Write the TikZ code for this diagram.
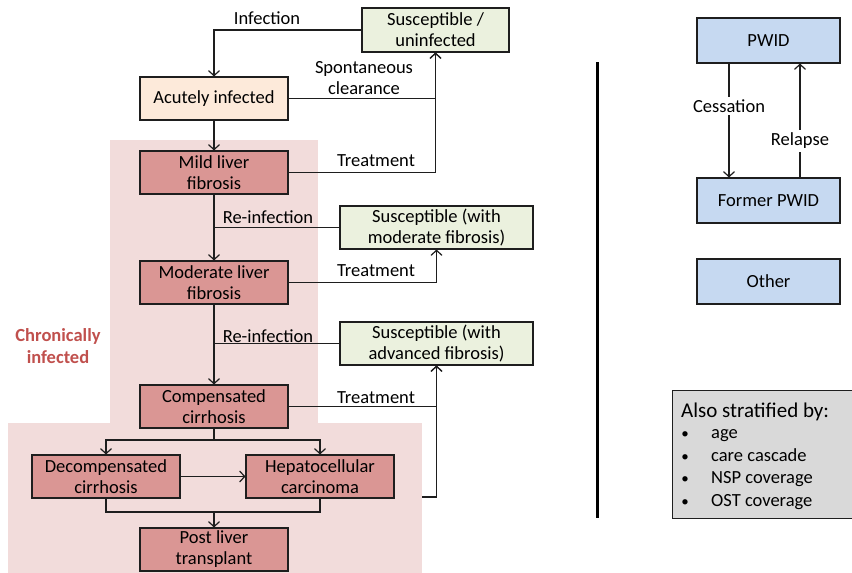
\documentclass[tikz,border=0pt]{standalone}
\usepackage{fontspec}
\setmainfont{Carlito}
\usetikzlibrary{arrows.meta}
\definecolor{susc}{RGB}{235,241,222}
\definecolor{acutec}{RGB}{253,234,218}
\definecolor{chron}{RGB}{218,150,148}
\definecolor{pinkbg}{RGB}{242,220,219}
\definecolor{bluec}{RGB}{198,217,241}
\definecolor{grayc}{RGB}{217,217,217}
\definecolor{redtxt}{RGB}{192,80,77}
\definecolor{edge}{RGB}{30,30,30}
\tikzset{
  box/.style={draw=edge, line width=1.1pt, minimum width=148pt, minimum height=43pt,
    align=center, inner sep=0pt, font=\fontsize{18.5}{21}\selectfont, text=black},
  lbl/.style={align=center, inner sep=1pt, font=\fontsize{18.5}{21.5}\selectfont},
  conn/.style={draw=edge, line width=1.2pt},
  arr/.style={conn, -{Straight Barb[length=5pt,width=11pt,line width=1.2pt]}},
  item/.style={anchor=base west, inner sep=0pt, font=\fontsize{18.5}{21}\selectfont},
  bul/.style={anchor=base, inner sep=0pt, font=\fontsize{15}{18}\selectfont},
}
\begin{document}
\begin{tikzpicture}[x=1pt,y=-1pt]
\useasboundingbox (0,0) rectangle (852,573);
% backgrounds
\fill[pinkbg] (110,140) rectangle (318,423);
\fill[pinkbg] (8,423) rectangle (422,573);

% left model nodes
\node[box, fill=susc, minimum width=147pt, minimum height=44pt] (sus) at (435.5,30) {Susceptible /\\uninfected};
\node[box, fill=acutec] (acute) at (214,98.5) {Acutely infected};
\node[box, fill=chron] (mild) at (214,172.5) {Mild liver\\fibrosis};
\node[box, fill=susc, minimum width=193pt] (susmod) at (436.5,227.5) {Susceptible (with\\moderate fibrosis)};
\node[box, fill=chron] (mod) at (214,282.5) {Moderate liver\\fibrosis};
\node[box, fill=susc, minimum width=193pt] (susadv) at (436.5,343.5) {Susceptible (with\\advanced fibrosis)};
\node[box, fill=chron] (comp) at (214,406.5) {Compensated\\cirrhosis};
\node[box, fill=chron] (decomp) at (106,476.5) {Decompensated\\cirrhosis};
\node[box, fill=chron] (hcc) at (320,476.5) {Hepatocellular\\carcinoma};
\node[box, fill=chron] (post) at (214,549.5) {Post liver\\transplant};

% connectors
\draw[arr] (sus.west) -| (acute.north);
\draw[arr] (acute.east) -| (sus.south);
\draw[arr] (mild.east) -| (sus.south);
\draw[arr] (acute) -- (mild);
\draw[arr] (mild) -- (mod);
\draw[conn] (susmod.west) -- (susmod.west -| mild.south);
\draw[arr] (mod.east) -| (susmod.south);
\draw[arr] (mod) -- (comp);
\draw[conn] (susadv.west) -- (susadv.west -| mod.south);
\draw[arr] (comp.east) -| (susadv.south);
\coordinate (lowedge) at (422,497);
\draw[arr] (lowedge) -| (susadv.south);
\coordinate (split) at (214,440);
\draw[conn] (comp.south) -- (split);
\draw[arr] (split) -| (decomp.north);
\draw[arr] (split) -| (hcc.north);
\draw[arr] (decomp) -- (hcc);
\coordinate (merge) at (214,512);
\draw[conn] (decomp.south) |- (merge);
\draw[conn] (hcc.south) |- (merge);
\draw[arr] (merge) -- (post.north);

% labels
\node[lbl] (linf) at (267,18) {Infection};
\node[lbl] (lsc) at (364,78) {Spontaneous\\clearance};
\node[lbl] (ltr1) at (376,161) {Treatment};
\node[lbl] (lre1) at (268,217) {Re-infection};
\node[lbl] (ltr2) at (376,271) {Treatment};
\node[lbl] (lre2) at (268,336) {Re-infection};
\node[lbl] (ltr3) at (376,398) {Treatment};
\node[lbl, text=redtxt, font=\fontsize{18.5}{21.5}\selectfont\bfseries] (chr) at (58,346) {Chronically\\infected};

% divider
\coordinate (dtop) at (597,62);
\coordinate (dbot) at (597,518);
\draw[line width=3pt] (dtop) -- (dbot);

% right side
\node[box, fill=bluec, minimum width=143pt, minimum height=45pt] (pwid) at (768.5,40.5) {PWID};
\node[box, fill=bluec, minimum width=143pt, minimum height=45pt] (former) at (768.5,200.5) {Former PWID};
\node[box, fill=bluec, minimum width=143pt, minimum height=45pt] (other) at (768.5,281.5) {Other};
\coordinate (cx) at (729,0);
\coordinate (rx) at (800,0);
\draw[arr] (pwid.south -| cx) -- (former.north -| cx);
\draw[arr] (former.north -| rx) -- (pwid.south -| rx);
\node[lbl, fill=white, inner sep=3pt] (lcess) at (729,106) {Cessation};
\node[lbl, fill=white, inner sep=3pt] (lrel) at (800,141) {Relapse};

% stratified box
\node[draw=edge, line width=1.1pt, fill=grayc, minimum width=180pt, minimum height=128pt, anchor=north west, inner sep=0pt] (strat) at (672,390) {};
\node[anchor=base west, inner sep=0pt, font=\fontsize{21}{24}\selectfont] (st) at (681,417) {Also stratified by:};
\foreach \y/\t [count=\i] in {438/age, 461/care cascade, 483.5/NSP coverage, 506/OST coverage}{
  \node[bul] (b\i) at (685,\y) {•};
  \node[item] (it\i) at (711,\y) {\t};
}
\end{tikzpicture}
\end{document}
